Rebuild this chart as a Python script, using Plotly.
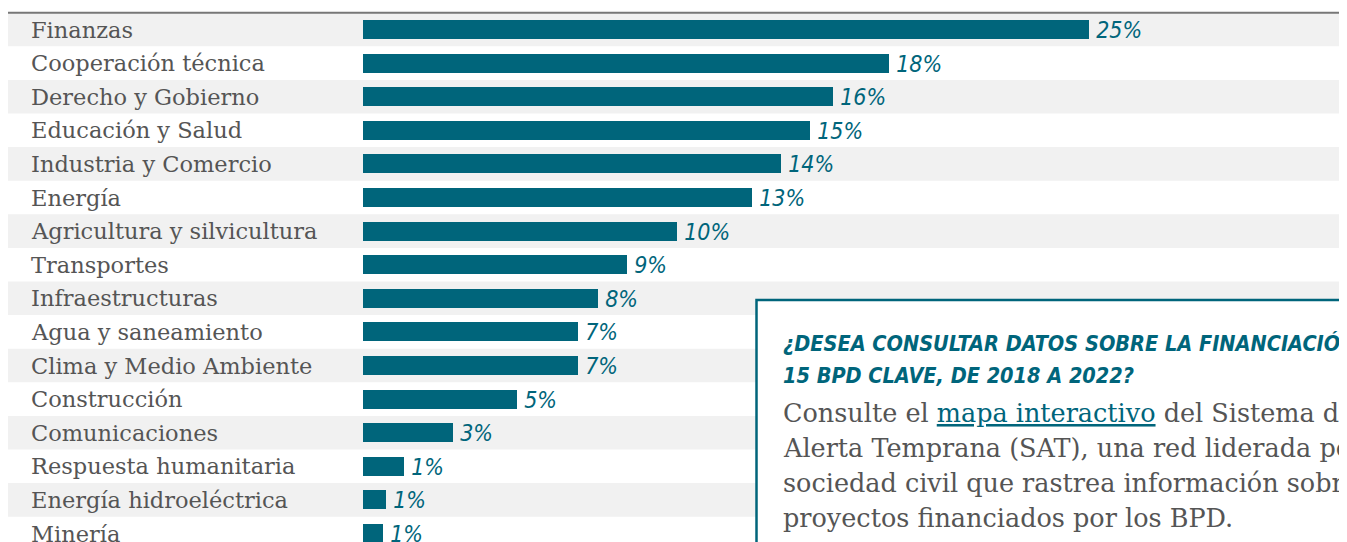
import plotly.graph_objects as go

categories = ["Finanzas", "Cooperación técnica", "Derecho y Gobierno", "Educación y Salud",
              "Industria y Comercio", "Energía", "Agricultura y silvicultura", "Transportes",
              "Infraestructuras", "Agua y saneamiento", "Clima y Medio Ambiente", "Construcción",
              "Comunicaciones", "Respuesta humanitaria", "Energía hidroeléctrica", "Minería"]
values = [25.0, 18.1, 16.2, 15.4, 14.4, 13.4, 10.8, 9.1, 8.1, 7.4, 7.4, 5.3, 3.1, 1.4, 0.8, 0.7]
value_labels = ["25%", "18%", "16%", "15%", "14%", "13%", "10%", "9%", "8%", "7%", "7%",
                "5%", "3%", "1%", "1%", "1%"]

box_title = ["¿DESEA CONSULTAR DATOS SOBRE LA FINANCIACIÓN DE LOS", "15 BPD CLAVE, DE 2018 A 2022?"]
box_body = ["Consulte el <span style='color:#00657b'><u>mapa interactivo</u></span> del Sistema de",
            "Alerta Temprana (SAT), una red liderada por la",
            "sociedad civil que rastrea información sobre",
            "proyectos financiados por los BPD."]

W, H = 1339, 534
TEAL = "#00657b"
GRAY = "#555555"
SERIF = "DejaVu Serif, serif"
COND = "DejaVu Sans Condensed, Liberation Sans Narrow, sans-serif"

ROW0 = 21.5   # centre of first row (px from top of figure)
PITCH = 33.6  # row pitch (px)
X0 = 355      # left of plotting area
PXU = 29.04   # px per percent

fig = go.Figure()
fig.add_trace(go.Bar(
    x=values, y=list(range(len(categories))), orientation="h",
    marker=dict(color=TEAL, line=dict(width=0)), width=0.57,
    text=["\u2009" + v for v in value_labels], textposition="outside", cliponaxis=False,
    constraintext="none",
    textfont=dict(family=COND, size=23, color=TEAL, style="italic"),
    hoverinfo="skip",
))

shapes = []
for i in range(len(categories)):
    if i % 2 == 0:
        shapes.append(dict(type="rect", xref="paper", yref="y", x0=0, x1=1.0,
                           y0=i - 0.5, y1=i + 0.5, fillcolor="#f1f1f1", line=dict(width=0),
                           layer="below"))
shapes.append(dict(type="line", xref="paper", yref="y", x0=0, x1=1.0, y0=-0.5, y1=-0.5,
                   line=dict(color="#777777", width=2)))
shapes.append(dict(type="rect", xref="paper", yref="paper", x0=748.5 / W, x1=1.2,
                   y0=-0.2, y1=1 - 292 / H, fillcolor="white",
                   line=dict(color=TEAL, width=2.5), layer="above"))

annotations = []
for i, c in enumerate(categories):
    annotations.append(dict(text=c, xref="paper", yref="y", x=21 / W, y=i, xanchor="left",
                            yanchor="middle", showarrow=False,
                            font=dict(family=SERIF, size=22.5, color=GRAY)))
for j, t in enumerate(box_title):
    annotations.append(dict(text="<b><i>" + t + "</i></b>", xref="paper", yref="paper",
                            x=773 / W, y=1 - (335 + 32 * j) / H, xanchor="left",
                            yanchor="middle", showarrow=False, align="left",
                            font=dict(family=COND, size=21.5, color=TEAL)))
for j, t in enumerate(box_body):
    annotations.append(dict(text=t, xref="paper", yref="paper",
                            x=773 / W, y=1 - (405 + 35 * j) / H, xanchor="left",
                            yanchor="middle", showarrow=False, align="left",
                            font=dict(family=SERIF, size=25.5, color=GRAY)))

fig.update_layout(
    width=W, height=H, margin=dict(l=0, r=0, t=0, b=0),
    paper_bgcolor="white", plot_bgcolor="rgba(0,0,0,0)",
    showlegend=False, shapes=shapes, annotations=annotations,
    xaxis=dict(domain=[X0 / W, 1.0], range=[0, (W - X0) / PXU], visible=False, fixedrange=True),
    yaxis=dict(range=[(H - ROW0) / PITCH, -ROW0 / PITCH], visible=False, fixedrange=True),
    bargap=0,
)
fig.write_html("out.html")
